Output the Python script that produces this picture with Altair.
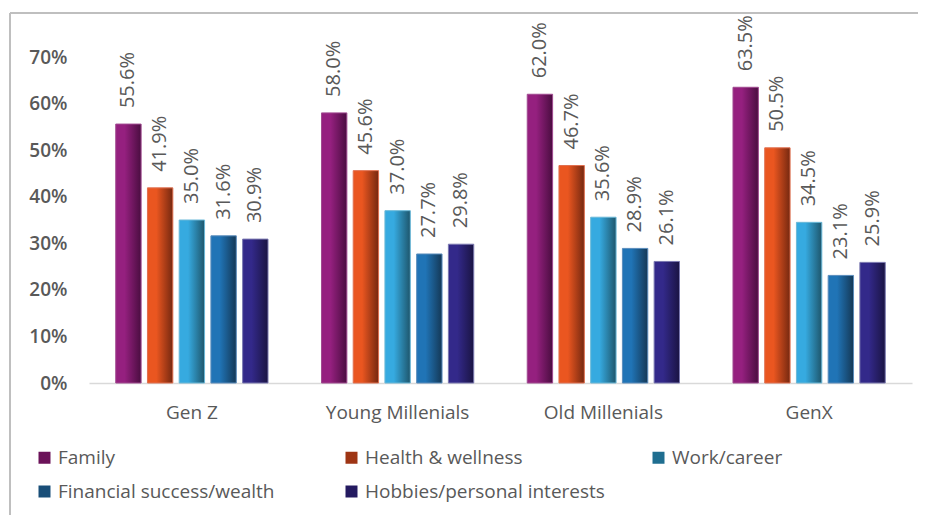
import altair as alt
import pandas as pd

generations = ["Gen Z", "Young Millenials", "Old Millenials", "GenX"]
series = ["Family", "Health & wellness", "Work/career",
          "Financial success/wealth", "Hobbies/personal interests"]
family = [55.6, 58.0, 62.0, 63.5]
health = [41.9, 45.6, 46.7, 50.5]
work = [35.0, 37.0, 35.6, 34.5]
financial = [31.6, 27.7, 28.9, 23.1]
hobbies = [30.9, 29.8, 26.1, 25.9]
y_ticks = [0, 0.1, 0.2, 0.3, 0.4, 0.5, 0.6, 0.7]

light_colors = ["#95207F", "#EA5620", "#36AAE0", "#2074B6", "#33298A"]
dark_colors = ["#4A0D40", "#752810", "#1E566C", "#143856", "#1A1443"]
edge_colors = ["#A04A90", "#E07050", "#6AB8D8", "#5A8CBC", "#7A78B0"]
legend_colors = ["#6B1259", "#9E3514", "#1F6E90", "#194E78", "#241A60"]

FONT = "Open Sans"
GREY = "#595959"

rows = []
for s, vals in zip(series, [family, health, work, financial, hobbies]):
    for g, v in zip(generations, vals):
        rows.append({"gen": g, "series": s, "value": v / 100})
df = pd.DataFrame(rows)

x_enc = alt.X(
    "gen:N", sort=generations,
    scale=alt.Scale(domain=generations, paddingInner=0.26, paddingOuter=0.13),
    axis=alt.Axis(title=None, labelAngle=0, labelFont=FONT, labelFontSize=19,
                  labelColor=GREY, labelPadding=20, domainColor="#D9D9D9",
                  domainWidth=1.5, ticks=False),
)
xo_enc = alt.XOffset("series:N", sort=series,
                     scale=alt.Scale(domain=series, paddingInner=0.2))
y_enc = alt.Y(
    "value:Q", scale=alt.Scale(domain=[0, 0.7]),
    axis=alt.Axis(title=None, format=".0%", values=y_ticks, grid=False,
                  domain=False, ticks=False, labelFont=FONT, labelFontSize=19,
                  labelFontWeight=600, labelColor=GREY, labelPadding=22),
)

layers = []
for i, s in enumerate(series):
    grad = alt.Gradient(
        gradient="linear", x1=0, x2=1, y1=0, y2=0,
        stops=[alt.GradientStop(offset=0, color=light_colors[i]),
               alt.GradientStop(offset=0.35, color=light_colors[i]),
               alt.GradientStop(offset=1, color=dark_colors[i])],
    )
    layers.append(
        alt.Chart(df).transform_filter(alt.datum.series == s)
        .mark_bar(fill=grad, stroke=edge_colors[i], strokeWidth=1)
        .encode(x=x_enc, xOffset=xo_enc, y=y_enc)
    )

labels = alt.Chart(df).mark_text(
    angle=270, align="left", baseline="middle", dx=16,
    font=FONT, fontSize=20, color=GREY,
).encode(x=x_enc, xOffset=xo_enc, y=y_enc,
         text=alt.Text("value:Q", format=".1%"))

legend_layer = alt.Chart(df).mark_square(size=0, opacity=0).encode(
    x=x_enc, xOffset=xo_enc, y=y_enc,
    color=alt.Color(
        "series:N", sort=series,
        scale=alt.Scale(domain=series, range=legend_colors),
        legend=alt.Legend(
            title=None, orient="none", legendX=-54, legendY=391,
            direction="horizontal",
            columns=3, gridAlign="all", symbolType="square", symbolSize=144,
            symbolOpacity=1, symbolStrokeWidth=0, labelFont=FONT,
            labelFontSize=19, labelColor=GREY, labelLimit=400, labelOffset=4,
            columnPadding=44, rowPadding=14, padding=0,
        ),
    ),
)

frame_df = pd.DataFrame({"k": [0]})
top_border = alt.Chart(frame_df).mark_rule(color="#BFBFBF", strokeWidth=2).encode(
    x=alt.value(-79), x2=alt.value(900), y=alt.value(-44))
left_border = alt.Chart(frame_df).mark_rule(color="#BFBFBF", strokeWidth=2).encode(
    x=alt.value(-79), y=alt.value(-44), y2=alt.value(600))

chart = alt.layer(*layers, labels, legend_layer, top_border, left_border).properties(
    width=823, height=326,
    padding={"left": 81, "top": 49, "right": 6, "bottom": 132},
    autosize=alt.AutoSizeParams(type="none"),
    background="white",
).configure_view(stroke=None)

chart.save("out.html", embed_options={"renderer": "svg", "actions": False})
